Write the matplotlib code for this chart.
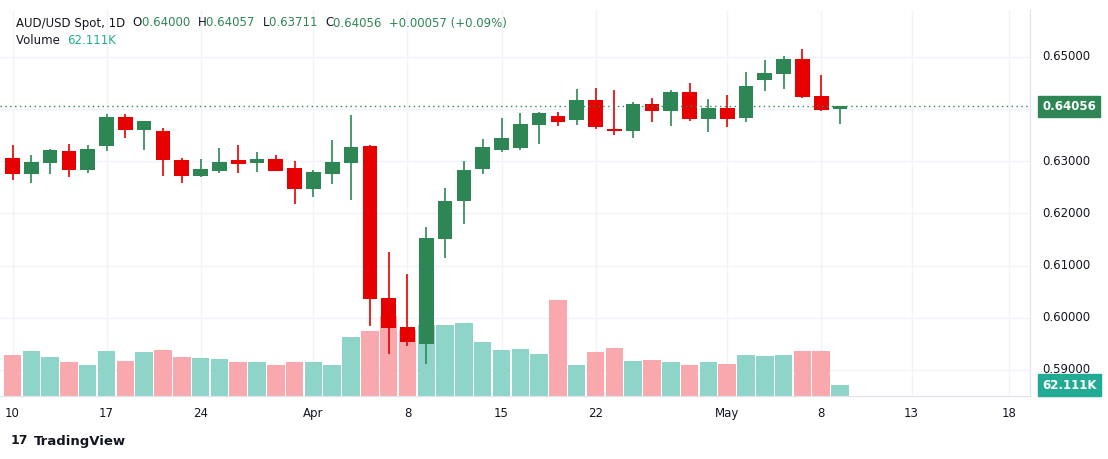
import matplotlib
matplotlib.use("Agg")
import matplotlib.pyplot as plt
import numpy as np

opens  = [0.6306,0.6276,0.6297,0.6320,0.6284,0.6330,0.6385,0.6361,0.6358,0.6303,0.6272,0.6282,0.6303,0.6297,0.6304,
          0.6287,0.6246,0.6276,0.6297,0.6329,0.6038,0.5982,0.5950,0.6152,0.6223,0.6286,0.6322,0.6326,0.6370,0.6387,
          0.6379,0.6418,0.6362,0.6359,0.6410,0.6397,0.6433,0.6382,0.6402,0.6384,0.6455,0.6468,0.6496,0.6425,0.64000]
highs  = [0.6331,0.6312,0.6324,0.6333,0.6331,0.6391,0.6391,0.6378,0.6364,0.6306,0.6304,0.6326,0.6331,0.6318,0.6312,
          0.6301,0.6283,0.6341,0.6389,0.6331,0.6126,0.6084,0.6174,0.6249,0.6301,0.6343,0.6383,0.6393,0.6395,0.6395,
          0.6439,0.6441,0.6437,0.6414,0.6421,0.6437,0.6450,0.6419,0.6427,0.6471,0.6494,0.6502,0.6515,0.6465,0.64057]
lows   = [0.6264,0.6259,0.6276,0.6269,0.6278,0.6320,0.6345,0.6322,0.6272,0.6259,0.6269,0.6278,0.6278,0.6280,0.6281,
          0.6219,0.6232,0.6257,0.6226,0.5985,0.5931,0.5945,0.5912,0.6115,0.6180,0.6276,0.6317,0.6322,0.6334,0.6368,
          0.6370,0.6362,0.6351,0.6345,0.6376,0.6368,0.6378,0.6357,0.6366,0.6376,0.6435,0.6439,0.6422,0.6397,0.63711]
closes = [0.6276,0.6299,0.6322,0.6284,0.6324,0.6385,0.6361,0.6377,0.6303,0.6272,0.6285,0.6299,0.6295,0.6304,0.6282,
          0.6246,0.6280,0.6299,0.6327,0.6037,0.5981,0.5954,0.6153,0.6224,0.6283,0.6327,0.6345,0.6372,0.6393,0.6376,
          0.6418,0.6366,0.6359,0.6410,0.6397,0.6433,0.6382,0.6402,0.6382,0.6444,0.6469,0.6496,0.6424,0.6399,0.64056]
volumes_k = [232,254,220,192,175,254,198,249,260,220,215,209,192,192,175,192,192,175,333,367,452,373,401,401,412,
             305,260,266,237,542,175,249,271,198,203,192,175,192,181,232,226,232,254,254,62.111]
tick_pos = [0, 5, 10, 16, 21, 26, 31, 38, 43, 47.8, 53]
tick_labels = ["10", "17", "24", "Apr", "8", "15", "22", "May", "8", "13", "18"]
price_ticks = [0.59, 0.60, 0.61, 0.62, 0.63, 0.64, 0.65]

GREEN = "#2e8655"; RED = "#e60000"
VG = "#8fd4c9"; VR = "#f9a9ae"
W, H = 1108, 459
fig = plt.figure(figsize=(W/100, H/100), dpi=100)
fig.patch.set_facecolor("white")
ax = fig.add_axes([0, 1-396/H, 1030/W, 386/H])
axv = ax.twinx()
ax.set_zorder(2); ax.patch.set_visible(False)
axv.set_zorder(1)

x = np.arange(len(opens))
up = [c >= o for o, c in zip(opens, closes)]
for i in x:
    col = GREEN if up[i] else RED
    ax.vlines(i, lows[i], highs[i], color=col, lw=1.2, zorder=3)
    b0 = min(opens[i], closes[i]); bh = max(abs(closes[i]-opens[i]), 0.00005)
    ax.bar(i, bh, bottom=b0, width=0.78, color=col, zorder=4)
axv.bar(x, volumes_k, width=0.93, color=[VG if u else VR for u in up], zorder=2)

ax.set_xlim(-0.665, 54.1)
ax.set_ylim(0.58501, 0.65901)
axv.set_ylim(0, 2181)
axv.set_yticks([])
ax.set_yticks([])
for p in price_ticks:
    axv.axhline((p - 0.58501) / (0.65901 - 0.58501) * 2181, color="#f0f3fa", lw=1, zorder=0)
for t in tick_pos:
    axv.axvline(t, color="#f0f3fa", lw=1, zorder=0)
ax.set_xticks(tick_pos)
ax.set_xticklabels(tick_labels, fontsize=8.5, color="#131722", fontweight="medium")
ax.tick_params(axis="x", length=0, pad=8)
for s in ["top", "left"]:
    ax.spines[s].set_visible(False); axv.spines[s].set_visible(False)
for a in (ax, axv):
    a.spines["bottom"].set_color("#e0e3eb"); a.spines["right"].set_color("#e0e3eb")

last = closes[-1]
ax.axhline(last, color=GREEN, lw=1, ls=(0, (1, 2.5)), zorder=5)
for p in price_ticks:
    if abs(p - last) > 0.003 and p > 0.5885:
        ax.text(1.012, p, f"{p:.5f}", transform=ax.get_yaxis_transform(), fontsize=8.5,
                color="#131722", va="center", ha="left", clip_on=False)
ax.text(1.012, last, f"{last:.5f}", transform=ax.get_yaxis_transform(), fontsize=8.5,
        color="white", va="center", ha="left", fontweight="bold", clip_on=False,
        bbox=dict(boxstyle="square,pad=0.35", fc=GREEN, ec=GREEN))
axv.text(1.012, volumes_k[-1], f"{volumes_k[-1]:.3f}K", transform=axv.get_yaxis_transform(), fontsize=8.5,
         color="white", va="center", ha="left", fontweight="bold", clip_on=False,
         bbox=dict(boxstyle="square,pad=0.35", fc="#22ab94", ec="#22ab94"))

fx = lambda px: px / W
fy = lambda py: 1 - py / H
parts = [("AUD/USD Spot, 1D  ", "#131722"), ("O", "#131722"), ("0.64000  ", GREEN), ("H", "#131722"),
         ("0.64057  ", GREEN), ("L", "#131722"), ("0.63711  ", GREEN), ("C", "#131722"),
         ("0.64056  +0.00057 (+0.09%)", GREEN)]
fig.canvas.draw()
r = fig.canvas.get_renderer()
xp = 16
for txt, c in parts:
    t = fig.text(fx(xp), fy(23), txt, fontsize=8.5, color=c, va="center", ha="left")
    xp += t.get_window_extent(r).width
t = fig.text(fx(16), fy(41), "Volume  ", fontsize=8.5, color="#131722", va="center")
fig.text(fx(16 + t.get_window_extent(r).width), fy(41), "62.111K", fontsize=8.5, color="#22ab94", va="center")
fig.text(fx(34), fy(441), "TradingView", fontsize=9.5, color="#131722", va="center", fontweight="bold")
fig.text(fx(11), fy(441), "17", fontsize=9, color="#131722", va="center", fontweight="heavy")

fig.savefig("out.png", dpi=100, facecolor="white")
